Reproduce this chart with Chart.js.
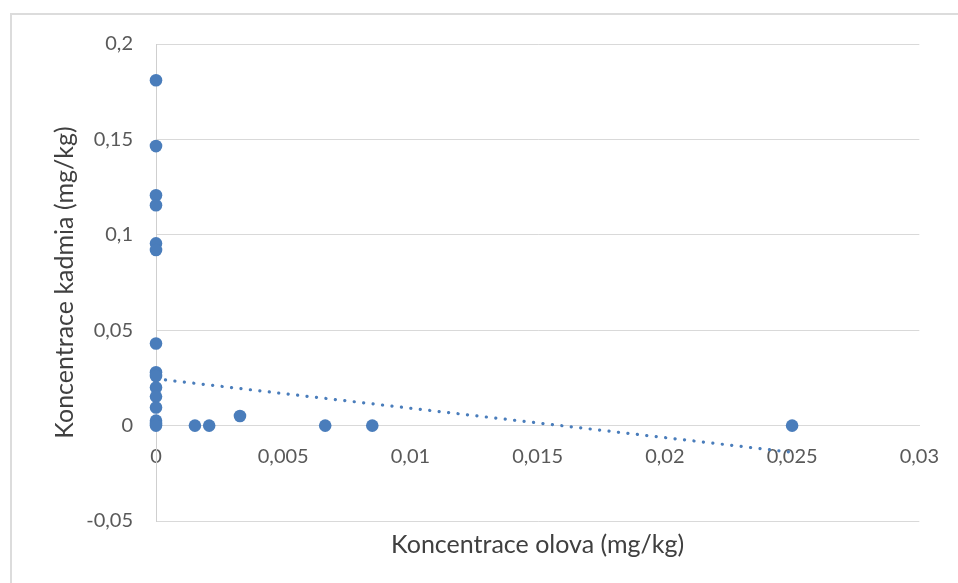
<!DOCTYPE html>
<html>
<head>
<meta charset="utf-8">
<script src="https://cdn.jsdelivr.net/npm/chart.js@4/dist/chart.umd.min.js"></script>
<style>
  html, body { margin: 0; padding: 0; background: #fff; }
  #wrap { position: relative; width: 958px; height: 583px; overflow: hidden; }
  #frame {
    position: absolute; left: 10px; top: 13px; width: 1000px; height: 600px;
    border-left: 2px solid #dcdcdc; border-top: 2px solid #dcdcdc;
  }
  canvas { position: absolute; left: 0; top: 0; }
</style>
</head>
<body>
<div id="wrap">
  <div id="frame"></div>
  <canvas id="chart" width="958" height="583"></canvas>
</div>
<script>
// Lead (x) and cadmium (y) concentrations, mg/kg
const leadValues = [
  0, 0, 0, 0, 0, 0, 0, 0, 0, 0, 0, 0, 0, 0, 0,
  0.00153, 0.00209, 0.0033, 0.00665, 0.0085, 0.025
];
const cadmiumValues = [
  0.181, 0.1465, 0.1207, 0.1155, 0.0955, 0.092, 0.043, 0.028, 0.026, 0.020, 0.0152, 0.0095, 0.0026, 0.0008, 0,
  0, 0, 0.005, 0, 0, 0
];

// Linear trendline end points
const trendLead = [0, 0.025];
const trendCadmium = [0.0245, -0.014];

// Axis ranges and tick steps
const xRange = [0, 0.03];
const xStep = 0.005;
const yRange = [-0.05, 0.2];
const yStep = 0.05;

const xTitle = 'Koncentrace olova (mg/kg)';
const yTitle = 'Koncentrace kadmia (mg/kg)';

const BLUE = '#4a7dbb';
const GRID = '#d9d9d9';
const TICK_COLOR = '#595959';
const TITLE_COLOR = '#404040';
const FONT = 'Lato';

const fmt = v => String(Number(v.toFixed(4))).replace('.', ',');

const points = leadValues.map((x, i) => ({ x, y: cadmiumValues[i] }));
const trend = trendLead.map((x, i) => ({ x, y: trendCadmium[i] }));

new Chart(document.getElementById('chart'), {
  type: 'scatter',
  data: {
    datasets: [
      {
        data: points,
        xAxisID: 'x',
        yAxisID: 'y',
        clip: false,
        pointRadius: 6.3,
        pointHoverRadius: 6.3,
        pointBackgroundColor: BLUE,
        pointBorderColor: BLUE,
        pointBorderWidth: 0,
        showLine: false,
        order: 1
      },
      {
        data: trend,
        xAxisID: 'x',
        yAxisID: 'y',
        showLine: true,
        pointRadius: 0,
        borderColor: BLUE,
        borderWidth: 3.2,
        borderDash: [0.1, 9.4],
        borderCapStyle: 'round',
        fill: false,
        order: 2
      }
    ]
  },
  options: {
    responsive: false,
    animation: false,
    events: [],
    layout: { padding: { top: 44, right: 38, bottom: 0, left: 0 } },
    plugins: { legend: { display: false }, tooltip: { enabled: false } },
    scales: {
      x: {
        type: 'linear',
        position: 'bottom',
        min: xRange[0],
        max: xRange[1],
        grid: { display: false },
        border: { display: false },
        ticks: { display: false, stepSize: xStep },
        title: {
          display: true,
          text: xTitle,
          color: TITLE_COLOR,
          font: { family: FONT, size: 25 },
          padding: { top: 0, bottom: 23 }
        },
        afterFit: s => { s.height = 62; }
      },
      xTicks: {
        axis: 'x',
        type: 'linear',
        position: { y: 0 },
        min: xRange[0],
        max: xRange[1],
        grid: { display: false, drawTicks: false },
        border: { display: true, color: GRID, width: 1 },
        ticks: {
          stepSize: xStep,
          color: TICK_COLOR,
          font: { family: FONT, size: 20 },
          padding: 19,
          maxRotation: 0,
          callback: v => fmt(v)
        }
      },
      y: {
        type: 'linear',
        position: 'left',
        min: yRange[0],
        max: yRange[1],
        grid: { color: GRID, lineWidth: 1, drawTicks: false },
        border: { display: true, color: '#cfcfcf', width: 1 },
        ticks: {
          stepSize: yStep,
          color: TICK_COLOR,
          font: { family: FONT, size: 20 },
          padding: 23,
          callback: v => fmt(v)
        },
        title: {
          display: true,
          text: yTitle,
          color: TITLE_COLOR,
          font: { family: FONT, size: 25 },
          padding: { top: 50, bottom: 0 }
        },
        afterFit: s => { s.width = 156; }
      }
    }
  }
});
</script>
</body>
</html>
